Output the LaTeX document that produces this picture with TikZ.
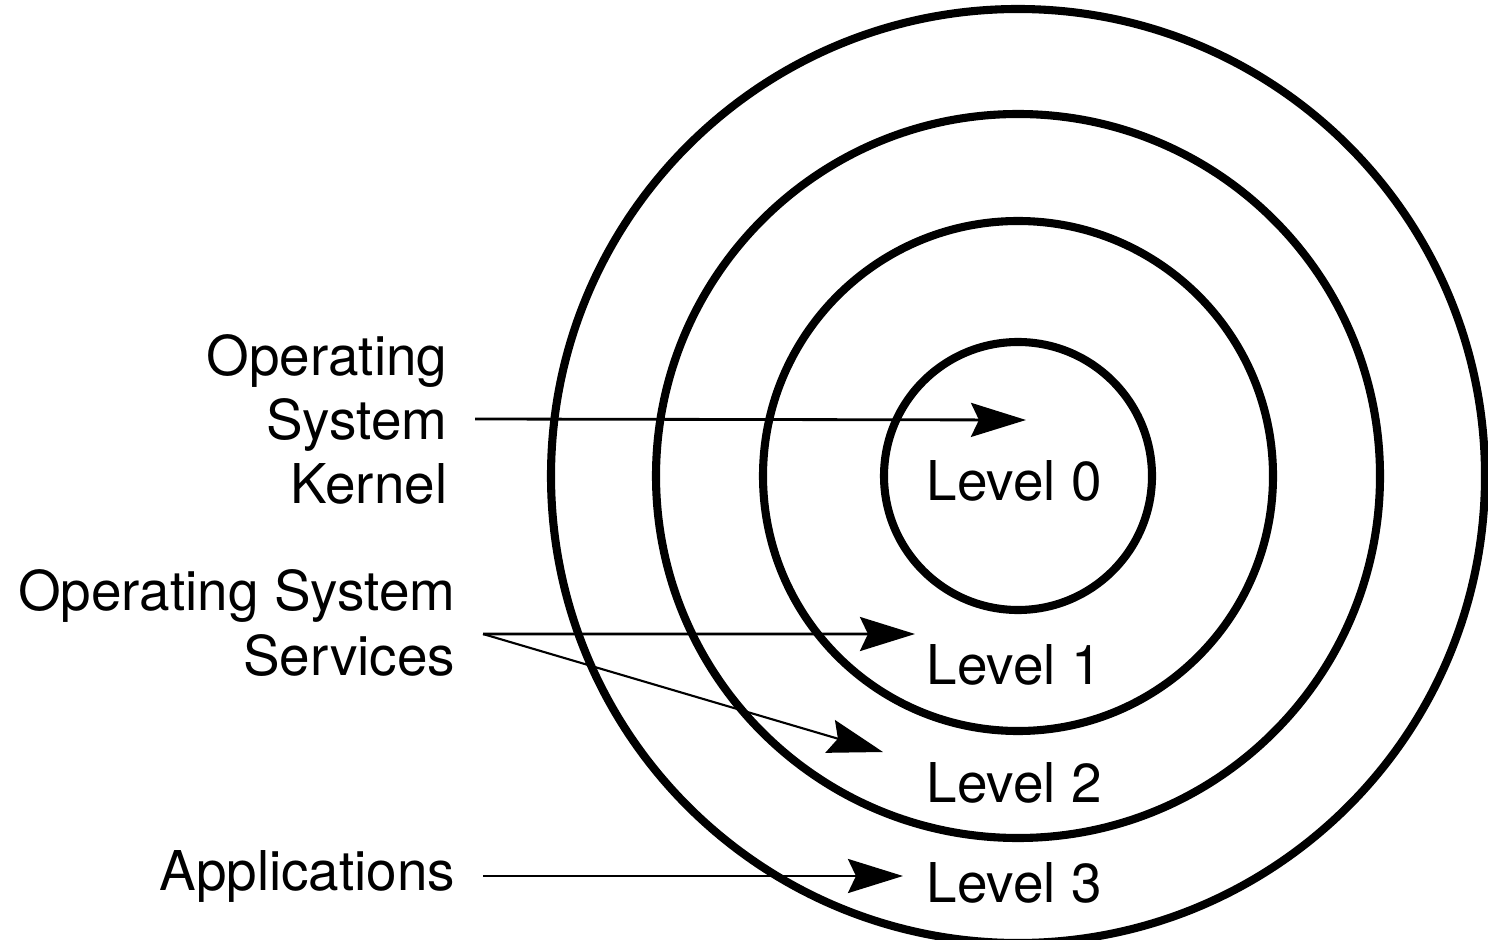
\documentclass[tikz,border=0pt]{standalone}
\usepackage{fontspec}
\setmainfont{TeX Gyre Heros}
\usetikzlibrary{arrows.meta}

\tikzset{
  ring/.style={line width=2.3pt},
  lbl/.style={align=right,anchor=east,inner xsep=0.27cm,inner ysep=0pt,font=\fontsize{15.6}{18.2}\selectfont},
  lvl/.style={anchor=west,inner sep=0pt,font=\fontsize{15.6}{18.2}\selectfont},
  pointer/.style={-{Stealth[length=0.55cm,width=0.34cm,inset=0.08cm]},line width=0.8pt}
}

\begin{document}
\begin{tikzpicture}[x=0.01cm,y=-0.01cm]
    \useasboundingbox (0,0) rectangle (1488,940);
    \coordinate (ctr) at (1018,476);
    \foreach \r in {134,255,362,467}
    \draw[ring] (ctr) circle[radius=\r];

    \node[lvl] (lv0) at (926,481) {Level 0};
    \node[lvl] (lv1) at (926,665) {Level 1};
    \node[lvl] (lv2) at (926,783) {Level 2};
    \node[lvl] (lv3) at (926,883) {Level 3};

    \node[lbl] (kernel) at (475,419) {Operating\\System\\Kernel};
    \node[lbl] (services) at (483,623) {Operating System\\Services};
    \node[lbl] (apps) at (483,876) {Applications};

    \coordinate (tip0) at (1026,420);
    \coordinate (tip1) at (915,634);
    \coordinate (tip2) at (883,752);
    \coordinate (tip3) at (903,876);

    \draw[pointer] (kernel.east) -- (tip0);
    \draw[pointer] ([yshift=-0.11cm]services.east) -- (tip1);
    \draw[pointer,line width=0.6pt] ([yshift=-0.11cm]services.east) -- (tip2);
    \draw[pointer] (apps.east) -- (tip3);
\end{tikzpicture}
\end{document}
